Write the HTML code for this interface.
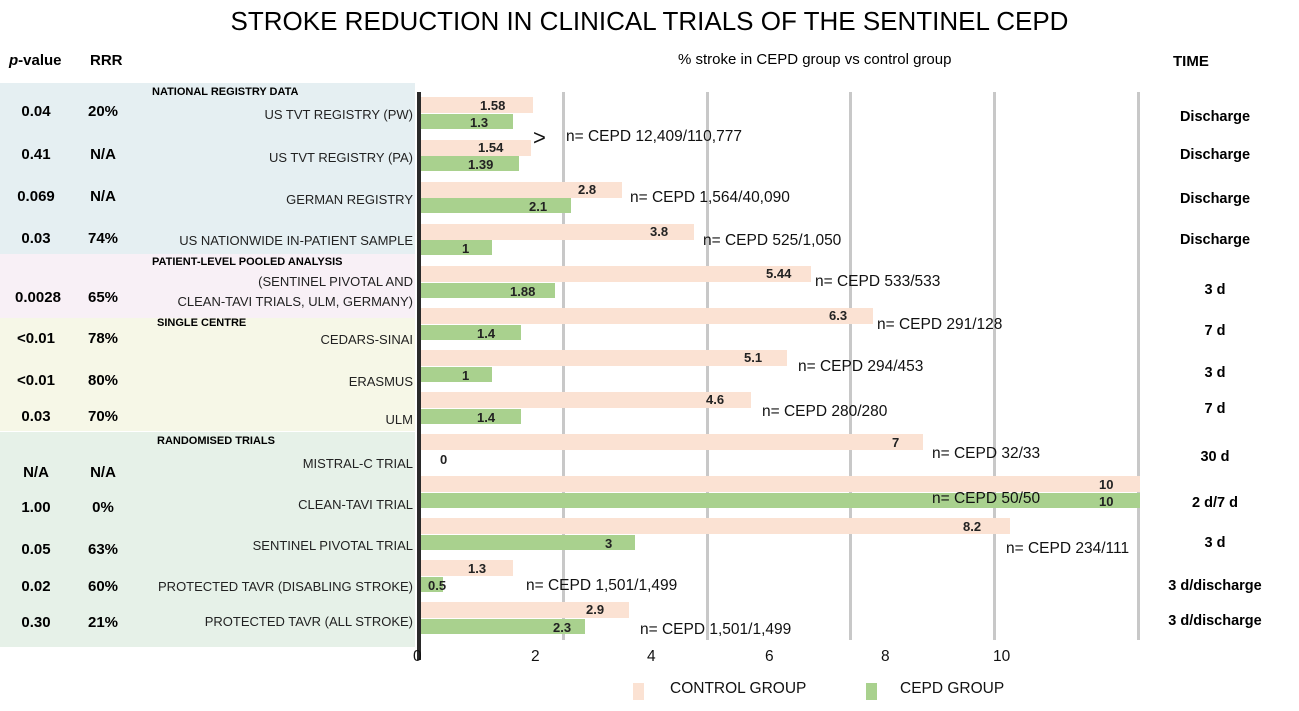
<!DOCTYPE html>
<html><head><meta charset="utf-8"><style>
body{margin:0;background:#fff;width:1299px;height:711px;overflow:hidden;position:relative;font-family:"Liberation Sans",sans-serif}
div,span{position:absolute}
.b{font-weight:bold}
.lab{right:886px;font-size:13px;color:#222;text-align:right;white-space:nowrap}
.pv{left:6px;width:60px;text-align:center;font-weight:bold;font-size:15px}
.rr{left:78px;width:50px;text-align:center;font-weight:bold;font-size:15px}
.tm{left:1140px;width:150px;text-align:center;font-weight:bold;font-size:14.5px}
.p{background:#fbe2d3;height:16px;left:421px}
.g{background:#a9d18e;height:15px;left:421px}
.v{font-weight:bold;font-size:13px;color:#222}
.n{font-size:15.5px;color:#111;white-space:nowrap}
.gl{width:3px;background:#c8c8c8;top:92px;height:548px}
.hd{font-weight:bold;font-size:11px;white-space:nowrap}
</style></head><body>
<div style="left:0;top:6px;width:1299px;text-align:center;font-size:26px">STROKE REDUCTION IN CLINICAL TRIALS OF THE SENTINEL CEPD</div>
<div class="b" style="left:9px;top:52px;font-size:15px"><i>p</i>-value</div>
<div class="b" style="left:90px;top:52px;font-size:15px">RRR</div>
<div style="left:678px;top:51px;font-size:15px">% stroke in CEPD group vs control group</div>
<div class="b" style="left:1173px;top:53px;font-size:15px">TIME</div>
<div style="left:0;top:83px;width:415px;height:171px;background:#e5eff2"></div>
<div style="left:0;top:254px;width:415px;height:64px;background:#f8f0f6"></div>
<div style="left:0;top:318px;width:415px;height:113px;background:#f6f7e7"></div>
<div style="left:0;top:432px;width:415px;height:215px;background:#e6f1e8"></div>
<div class="gl" style="left:562px"></div><div class="gl" style="left:706px"></div><div class="gl" style="left:849px"></div><div class="gl" style="left:993px"></div><div class="gl" style="left:1137px"></div>
<div style="left:417px;top:92px;width:4px;height:568px;background:#2a2a2a"></div>
<div class="hd" style="left:152px;top:86px">NATIONAL REGISTRY DATA</div>
<div class="hd" style="left:152px;top:256px">PATIENT-LEVEL POOLED ANALYSIS</div>
<div class="hd" style="left:157px;top:317px">SINGLE CENTRE</div>
<div class="hd" style="left:157px;top:435px">RANDOMISED TRIALS</div>

<div class="pv" style="top:103px">0.04</div><div class="rr" style="top:103px">20%</div><div class="lab" style="top:107px">US TVT REGISTRY (PW)</div><div class="tm" style="top:109px">Discharge</div>
<div class="p" style="top:97px;width:112px"></div><div class="g" style="top:114px;width:92px"></div>
<div class="v" style="left:480px;top:98px">1.58</div><div class="v" style="left:470px;top:115px">1.3</div>
<div class="n" style="left:533px;top:125px;font-size:22px">&gt;</div><div class="n" style="left:566px;top:128px">n= CEPD 12,409/110,777</div>

<div class="pv" style="top:146px">0.41</div><div class="rr" style="top:146px">N/A</div><div class="lab" style="top:150px">US TVT REGISTRY (PA)</div><div class="tm" style="top:147px">Discharge</div>
<div class="p" style="top:140px;width:110px"></div><div class="g" style="top:156px;width:98px"></div>
<div class="v" style="left:478px;top:140px">1.54</div><div class="v" style="left:468px;top:157px">1.39</div>

<div class="pv" style="top:188px">0.069</div><div class="rr" style="top:188px">N/A</div><div class="lab" style="top:192px">GERMAN REGISTRY</div><div class="tm" style="top:191px">Discharge</div>
<div class="p" style="top:182px;width:201px"></div><div class="g" style="top:198px;width:150px"></div>
<div class="v" style="left:578px;top:182px">2.8</div><div class="v" style="left:529px;top:199px">2.1</div>
<div class="n" style="left:630px;top:189px">n= CEPD 1,564/40,090</div>

<div class="pv" style="top:230px">0.03</div><div class="rr" style="top:230px">74%</div><div class="lab" style="top:233px">US NATIONWIDE IN-PATIENT SAMPLE</div><div class="tm" style="top:232px">Discharge</div>
<div class="p" style="top:224px;width:273px"></div><div class="g" style="top:240px;width:71px"></div>
<div class="v" style="left:650px;top:224px">3.8</div><div class="v" style="left:462px;top:241px">1</div>
<div class="n" style="left:703px;top:232px">n= CEPD 525/1,050</div>

<div class="pv" style="top:289px;left:2px;width:72px">0.0028</div><div class="rr" style="top:289px">65%</div>
<div class="lab" style="top:274px">(SENTINEL PIVOTAL AND</div><div class="lab" style="top:294px">CLEAN-TAVI TRIALS, ULM, GERMANY)</div><div class="tm" style="top:282px">3 d</div>
<div class="p" style="top:266px;width:390px"></div><div class="g" style="top:283px;width:134px"></div>
<div class="v" style="left:766px;top:266px">5.44</div><div class="v" style="left:510px;top:284px">1.88</div>
<div class="n" style="left:815px;top:273px">n= CEPD 533/533</div>

<div class="pv" style="top:330px">&lt;0.01</div><div class="rr" style="top:330px">78%</div><div class="lab" style="top:332px">CEDARS-SINAI</div><div class="tm" style="top:323px">7 d</div>
<div class="p" style="top:308px;width:452px"></div><div class="g" style="top:325px;width:100px"></div>
<div class="v" style="left:829px;top:308px">6.3</div><div class="v" style="left:477px;top:326px">1.4</div>
<div class="n" style="left:877px;top:316px">n= CEPD 291/128</div>

<div class="pv" style="top:372px">&lt;0.01</div><div class="rr" style="top:372px">80%</div><div class="lab" style="top:374px">ERASMUS</div><div class="tm" style="top:365px">3 d</div>
<div class="p" style="top:350px;width:366px"></div><div class="g" style="top:367px;width:71px"></div>
<div class="v" style="left:744px;top:350px">5.1</div><div class="v" style="left:462px;top:368px">1</div>
<div class="n" style="left:798px;top:358px">n= CEPD 294/453</div>

<div class="pv" style="top:408px">0.03</div><div class="rr" style="top:408px">70%</div><div class="lab" style="top:412px">ULM</div><div class="tm" style="top:401px">7 d</div>
<div class="p" style="top:392px;width:330px"></div><div class="g" style="top:409px;width:100px"></div>
<div class="v" style="left:706px;top:392px">4.6</div><div class="v" style="left:477px;top:410px">1.4</div>
<div class="n" style="left:762px;top:403px">n= CEPD 280/280</div>

<div class="pv" style="top:464px">N/A</div><div class="rr" style="top:464px">N/A</div><div class="lab" style="top:456px">MISTRAL-C TRIAL</div><div class="tm" style="top:449px">30 d</div>
<div class="p" style="top:434px;width:502px"></div>
<div class="v" style="left:892px;top:435px">7</div><div class="v" style="left:440px;top:452px">0</div>
<div class="n" style="left:932px;top:445px">n= CEPD 32/33</div>

<div class="pv" style="top:499px">1.00</div><div class="rr" style="top:499px">0%</div><div class="lab" style="top:497px">CLEAN-TAVI TRIAL</div><div class="tm" style="top:495px">2 d/7 d</div>
<div class="p" style="top:476px;width:719px"></div><div class="g" style="top:493px;width:719px"></div>
<div class="v" style="left:1099px;top:477px">10</div><div class="v" style="left:1099px;top:494px">10</div>
<div class="n" style="left:932px;top:490px">n= CEPD 50/50</div>

<div class="pv" style="top:541px">0.05</div><div class="rr" style="top:541px">63%</div><div class="lab" style="top:538px">SENTINEL PIVOTAL TRIAL</div><div class="tm" style="top:535px">3 d</div>
<div class="p" style="top:518px;width:589px"></div><div class="g" style="top:535px;width:214px"></div>
<div class="v" style="left:963px;top:519px">8.2</div><div class="v" style="left:605px;top:536px">3</div>
<div class="n" style="left:1006px;top:540px">n= CEPD 234/111</div>

<div class="pv" style="top:578px">0.02</div><div class="rr" style="top:578px">60%</div><div class="lab" style="top:579px">PROTECTED TAVR (DISABLING STROKE)</div><div class="tm" style="top:578px">3 d/discharge</div>
<div class="p" style="top:560px;width:92px"></div><div class="g" style="top:577px;width:22px"></div>
<div class="v" style="left:468px;top:561px">1.3</div><div class="v" style="left:428px;top:578px">0.5</div>
<div class="n" style="left:526px;top:577px">n= CEPD 1,501/1,499</div>

<div class="pv" style="top:614px">0.30</div><div class="rr" style="top:614px">21%</div><div class="lab" style="top:614px">PROTECTED TAVR (ALL STROKE)</div><div class="tm" style="top:613px">3 d/discharge</div>
<div class="p" style="top:602px;width:208px"></div><div class="g" style="top:619px;width:164px"></div>
<div class="v" style="left:586px;top:602px">2.9</div><div class="v" style="left:553px;top:620px">2.3</div>
<div class="n" style="left:640px;top:621px">n= CEPD 1,501/1,499</div>

<div class="n" style="left:413px;top:648px">0</div><div class="n" style="left:531px;top:648px">2</div><div class="n" style="left:647px;top:648px">4</div><div class="n" style="left:765px;top:648px">6</div><div class="n" style="left:881px;top:648px">8</div><div class="n" style="left:993px;top:648px">10</div>
<div style="left:633px;top:683px;width:11px;height:17px;background:#fbe2d3"></div>
<div class="n" style="left:670px;top:680px">CONTROL GROUP</div>
<div style="top:683px;width:11px;height:17px;background:#a9d18e;left:866px"></div>
<div class="n" style="left:900px;top:680px">CEPD GROUP</div>
</body></html>
